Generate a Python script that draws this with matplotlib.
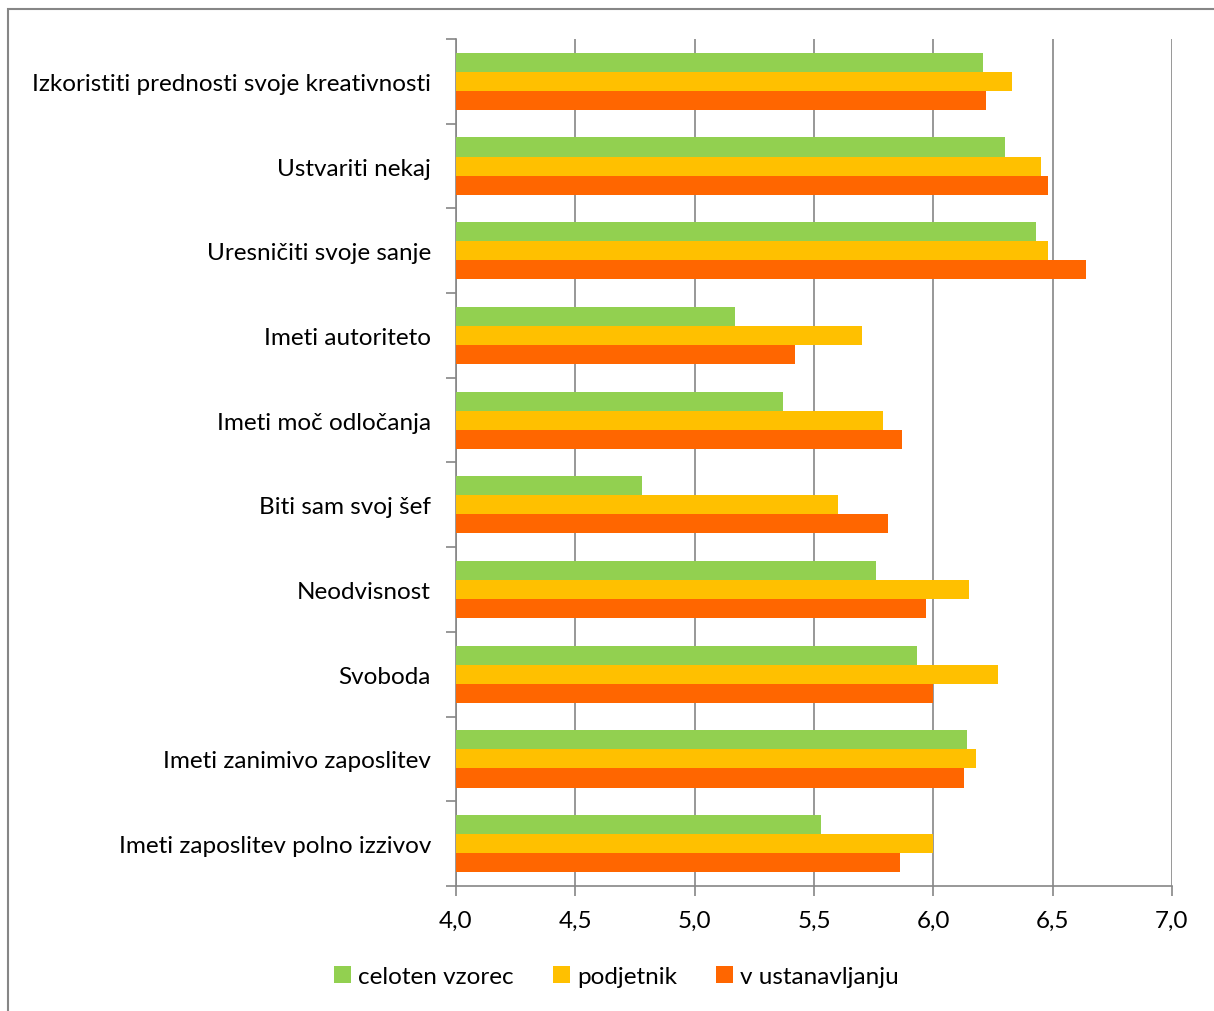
import matplotlib.pyplot as plt
import numpy as np
from matplotlib.patches import Rectangle

# categories, listed top to bottom as in the chart
categories = [
    "Izkoristiti prednosti svoje kreativnosti",
    "Ustvariti nekaj",
    "Uresničiti svoje sanje",
    "Imeti autoriteto",
    "Imeti moč odločanja",
    "Biti sam svoj šef",
    "Neodvisnost",
    "Svoboda",
    "Imeti zanimivo zaposlitev",
    "Imeti zaposlitev polno izzivov",
]
celoten = [6.21, 6.30, 6.43, 5.17, 5.37, 4.78, 5.76, 5.93, 6.14, 5.53]
podjetnik = [6.33, 6.45, 6.48, 5.70, 5.79, 5.60, 6.15, 6.27, 6.18, 6.00]
ustanavljanje = [6.22, 6.48, 6.64, 5.42, 5.87, 5.81, 5.97, 6.00, 6.13, 5.86]
series_names = ["celoten vzorec", "podjetnik", "v ustanavljanju"]
xticks = [4.0, 4.5, 5.0, 5.5, 6.0, 6.5, 7.0]

plt.rcParams['font.family'] = ['Lato', 'DejaVu Sans']
fs = 17.5

fig = plt.figure(figsize=(12.14, 10.12), dpi=100)
ax = fig.add_axes([0.3756, 0.1235, 0.5898, 0.837])

colors = ["#92D050", "#FFC000", "#FF6600"]
w = 0.225
y = np.arange(len(categories))
base = 4.0
for k, (vals, name) in enumerate(zip([celoten, podjetnik, ustanavljanje], series_names)):
    vals = np.array(vals)
    ax.barh(y + (k - 1) * w, vals - base, left=base, height=w,
            color=colors[k], label=name, zorder=3)

ax.set_xlim(4.0, 7.0)
ax.set_ylim(len(categories) - 0.5, -0.5)
ax.set_xticks(xticks)
ax.set_xticklabels([("%.1f" % t).replace(".", ",") for t in xticks], fontsize=fs)
ax.set_yticks(y)
ax.set_yticklabels(categories, fontsize=fs)
ax.tick_params(axis='y', length=0, pad=18)
ax.set_yticks(np.arange(len(categories) + 1) - 0.5, minor=True)
ax.tick_params(axis='y', which='minor', length=7, color='#868686', width=1.2)
ax.tick_params(axis='x', length=7, color='#868686', width=1.2, pad=10)

ax.grid(axis='x', color='#868686', linewidth=1.2, zorder=0)
for s in ['top', 'right']:
    ax.spines[s].set_visible(False)
for s in ['left', 'bottom']:
    ax.spines[s].set_color('#868686')
    ax.spines[s].set_linewidth(1.2)

fig.legend(loc='center', bbox_to_anchor=(0.508, 0.034), ncol=3, frameon=False,
           fontsize=fs, handlelength=0.7, handleheight=0.7, handletextpad=0.3,
           columnspacing=1.6)

fig.patches.append(Rectangle((0.0066, -0.01), 1.1, 1.0 - 0.0099 + 0.01,
                             transform=fig.transFigure, fill=False,
                             edgecolor='#868686', linewidth=1.5))

fig.savefig("out.png", dpi=100)
